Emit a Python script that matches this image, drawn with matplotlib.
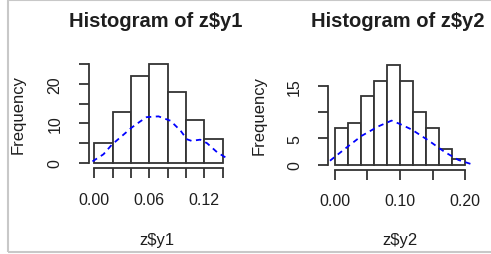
import matplotlib
matplotlib.use("Agg")
import matplotlib.pyplot as plt
from matplotlib.patches import Rectangle
import numpy as np

# ---- data ----
bins1_start = 0.0
bin_width = 0.02
counts1 = [5, 13, 22, 25, 18, 11, 6]
counts2 = [7, 8, 13, 16, 19, 16, 10, 7, 3, 1]

dens1_x = [-0.002, 0.01, 0.019, 0.03, 0.041, 0.05, 0.057, 0.070, 0.083, 0.094,
           0.101, 0.106, 0.1155, 0.123, 0.134, 0.146]
dens1_y = [0.4, 2.2, 4.6, 6.8, 9.0, 10.5, 11.6, 11.8, 10.7, 8.2,
           6.0, 5.6, 5.9, 5.0, 2.7, 1.0]
dens2_x = [-0.0077, 0.015, 0.041, 0.0667, 0.087, 0.10, 0.118, 0.144, 0.169, 0.19, 0.21]
dens2_y = [0.76, 3.0, 5.5, 7.3, 8.4, 7.75, 6.7, 4.6, 2.4, 0.9, 0.1]

titles = ["Histogram of z$y1", "Histogram of z$y2"]
xlabels = ["z$y1", "z$y2"]
ylabel = "Frequency"
xticks1 = [0.00, 0.02, 0.04, 0.06, 0.08, 0.10, 0.12, 0.14]
xticklabels1 = ["0.00", "", "", "0.06", "", "", "0.12", ""]
yticks1 = [0, 5, 10, 15, 20, 25]
yticklabels1 = ["0", "", "10", "", "20", ""]
xticks2 = [0.00, 0.05, 0.10, 0.15, 0.20]
xticklabels2 = ["0.00", "", "0.10", "", "0.20"]
yticks2 = [0, 5, 10, 15]
yticklabels2 = ["0", "5", "", "15"]

W, H = 491, 255
plt.rcParams['font.family'] = ['Liberation Sans', 'DejaVu Sans']
fig = plt.figure(figsize=(W / 100, H / 100), dpi=100)
fig.patch.set_facecolor('white')

def fx(px):
    return px / W

def fy(py):
    return 1 - py / H

# border
fig.patches.append(Rectangle((fx(8), fy(253)), fx(500) - fx(8), fy(1) - fy(253),
                             transform=fig.transFigure, fill=False,
                             edgecolor='#c8c8c8', linewidth=1.5))

TXT = '#1e1e1e'
EDGE = '#333333'

def make_panel(left, right, top, bottom, xlim, ylim, counts, dx, dy,
               xticks, xtl, yticks, ytl, title, xlabel, title_xy, xlabel_xy, ylabel_xy):
    ax = fig.add_axes([fx(left), fy(bottom), fx(right) - fx(left), fy(top) - fy(bottom)])
    ax.set_xlim(*xlim)
    ax.set_ylim(*ylim)
    starts = [bins1_start + i * bin_width for i in range(len(counts))]
    ax.bar(starts, counts, width=bin_width, align='edge', facecolor='white',
           edgecolor=EDGE, linewidth=1.3, clip_on=False)
    ax.plot(dx, dy, color='#0000ff', linestyle=(0, (3, 2.5)), linewidth=1.3, clip_on=False)
    ax.patch.set_alpha(0)
    for s in ['top', 'right']:
        ax.spines[s].set_visible(False)
    ax.spines['left'].set_bounds(yticks[0], yticks[-1])
    ax.spines['bottom'].set_bounds(xticks[0], xticks[-1])
    for s in ['left', 'bottom']:
        ax.spines[s].set_color(EDGE)
        ax.spines[s].set_linewidth(1.3)
    ax.set_xticks(xticks)
    ax.set_xticklabels(xtl)
    ax.set_yticks(yticks)
    ax.set_yticklabels(ytl, rotation=90, va='center')
    ax.tick_params(axis='both', direction='out', length=7, width=1.3, color=EDGE,
                   labelsize=11.5, labelcolor=TXT)
    ax.tick_params(axis='x', pad=10)
    ax.tick_params(axis='y', pad=12)
    fig.text(fx(title_xy[0]), fy(title_xy[1]), title, ha='center', va='baseline',
             fontsize=14.5, fontweight='bold', color=TXT)
    fig.text(fx(xlabel_xy[0]), fy(xlabel_xy[1]), xlabel, ha='center', va='center',
             fontsize=12, color=TXT)
    fig.text(fx(ylabel_xy[0]), fy(ylabel_xy[1]), ylabel, ha='center', va='center',
             rotation=90, fontsize=12, color=TXT)
    return ax

make_panel(89, 228, 60.2, 169, (-0.00578, 0.1458), (-1.27, 26.27), counts1,
           dens1_x, dens1_y, xticks1, xticklabels1, yticks1, yticklabels1,
           titles[0], xlabels[0], (156, 27.3), (156.8, 241), (18, 114.5))
make_panel(328.3, 471.7, 61, 170.7, (-0.0103, 0.2103), (-0.95, 19.94), counts2,
           dens2_x, dens2_y, xticks2, xticklabels2, yticks2, yticklabels2,
           titles[1], xlabels[1], (398, 27), (400, 240.5), (259, 115.5))

fig.savefig("out.png", dpi=100)
